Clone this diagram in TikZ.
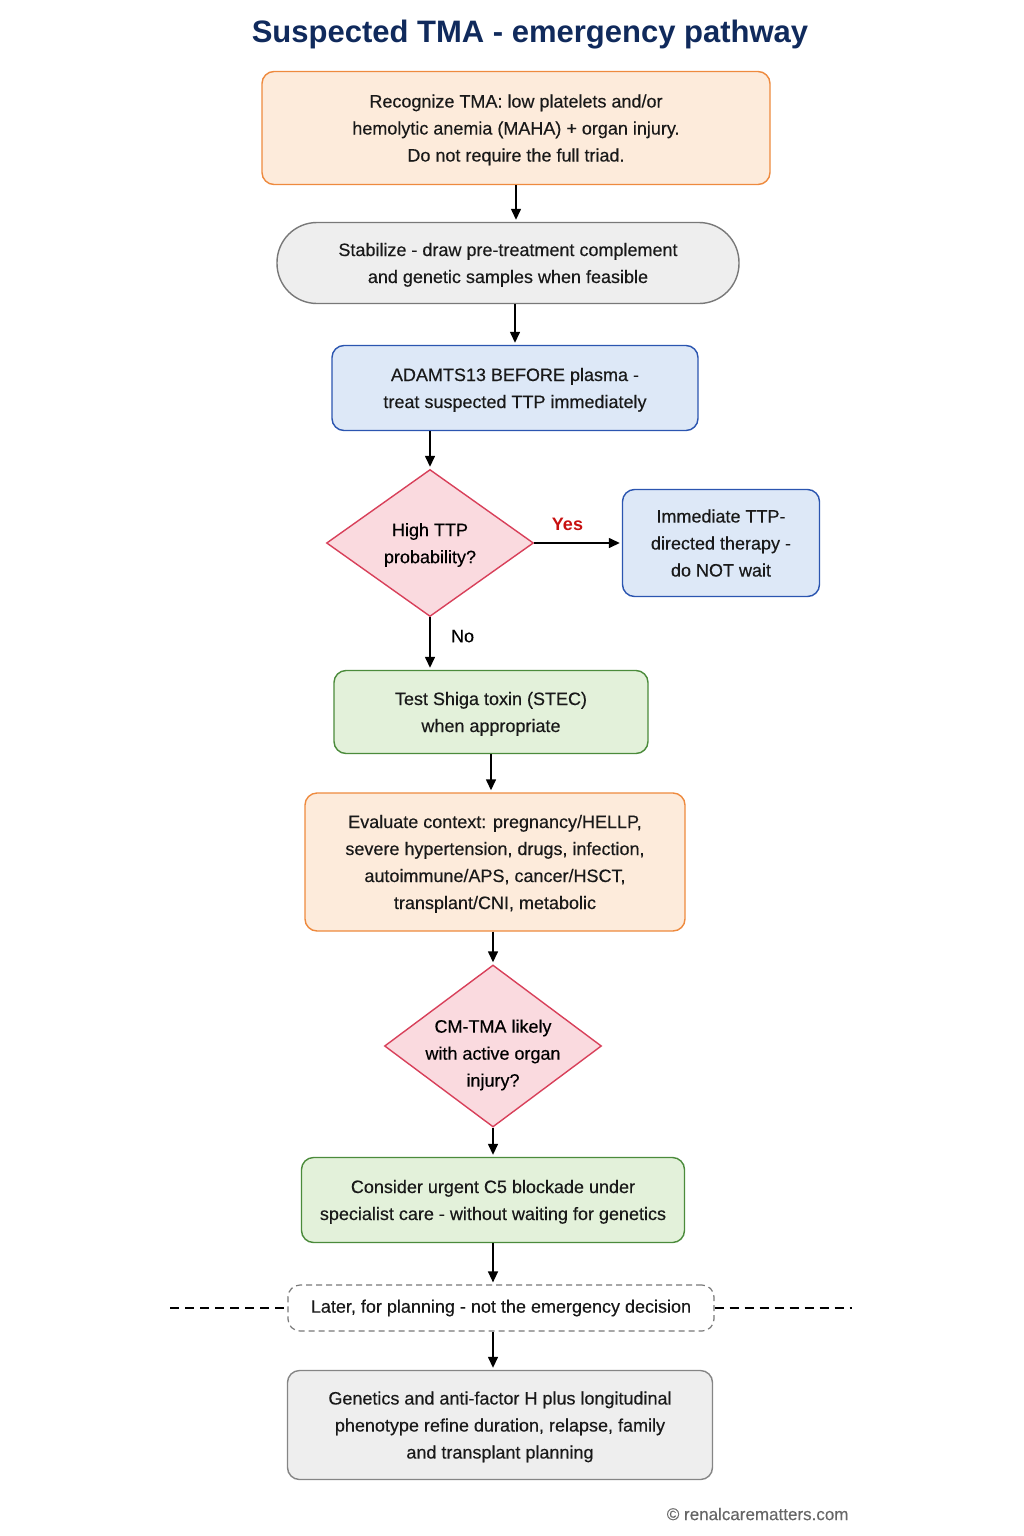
\documentclass[tikz,border=0pt]{standalone}
\usepackage{fontspec}
\setmainfont{Liberation Sans}[UprightFeatures={FakeBold=0.3}]
\usetikzlibrary{shapes.geometric,arrows.meta}

\definecolor{titleblue}{HTML}{102A5C}
\definecolor{orfill}{HTML}{FDEBDB}
\definecolor{ordraw}{HTML}{EE8A3E}
\definecolor{gyfill}{HTML}{EEEEEE}
\definecolor{gydraw}{HTML}{787878}
\definecolor{blfill}{HTML}{DDE8F7}
\definecolor{bldraw}{HTML}{2B55B0}
\definecolor{pkfill}{HTML}{FADADF}
\definecolor{pkdraw}{HTML}{D8405A}
\definecolor{grfill}{HTML}{E3F1DA}
\definecolor{grdraw}{HTML}{4B8B3B}
\definecolor{yesred}{HTML}{C81010}

\begin{document}
\begin{tikzpicture}[x=1pt,y=-1pt,font=\fontsize{18}{27}\selectfont,
    box/.style={draw,line width=1.4pt,rounded corners=12pt,align=center,inner sep=0pt,text=black!90},
    orangebox/.style={box,fill=orfill,draw=ordraw},
    graybox/.style={box,fill=gyfill,draw=gydraw},
    bluebox/.style={box,fill=blfill,draw=bldraw},
    greenbox/.style={box,fill=grfill,draw=grdraw},
    decision/.style={diamond,draw=pkdraw,fill=pkfill,line width=1.4pt,inner sep=0pt},
    arr/.style={-{Triangle[length=11pt,width=10pt]},line width=1.4pt,shorten >=2pt}]
  \useasboundingbox (0,0) rectangle (1024,1536);

  \node[font=\fontsize{31}{36}\selectfont\bfseries,text=titleblue] (title) at (530,35) {Suspected TMA - emergency pathway};

  \node[orangebox,minimum width=508pt,minimum height=113pt,text depth=0pt] (recog) at (516,128)
    {Recognize TMA: low platelets and/or\\hemolytic anemia (MAHA) + organ injury.\\Do not require the full triad.};
  \node[graybox,rounded corners=40pt,minimum width=462pt,minimum height=81pt,text depth=0pt] (stab) at (508,263)
    {Stabilize - draw pre-treatment complement\\and genetic samples when feasible};
  \node[bluebox,minimum width=366pt,minimum height=85pt,text depth=0pt] (adamts) at (515,388)
    {ADAMTS13 BEFORE plasma -\\treat suspected TTP immediately};

  % first decision
  \node[decision,minimum width=207pt,minimum height=147pt] (ttp) at (430,543) {};
  \node[align=center] (ttptext) at (430,545) {High TTP\\probability?};
  \node[bluebox,minimum width=197pt,minimum height=107pt,text depth=0pt] (immed) at (721,543)
    {Immediate TTP-\\directed therapy -\\do NOT wait};

  \node[greenbox,minimum width=314pt,minimum height=83pt,text depth=0pt] (stec) at (491,712)
    {Test Shiga toxin (STEC)\\when appropriate};
  \node[orangebox,minimum width=380pt,minimum height=138pt,text depth=0pt] (context) at (495,862)
    {Evaluate context: pregnancy/HELLP,\\severe hypertension, drugs, infection,\\autoimmune/APS, cancer/HSCT,\\transplant/CNI, metabolic};

  % second decision
  \node[decision,minimum width=217pt,minimum height=162pt] (cmtma) at (493,1046) {};
  \node[align=center] (cmtmatext) at (493,1055) {CM-TMA likely\\with active organ\\injury?};

  \node[greenbox,minimum width=383pt,minimum height=85pt,text depth=0pt] (c5) at (493,1200)
    {Consider urgent C5 blockade under\\specialist care - without waiting for genetics};
  \node[box,draw=gydraw,fill=white,line width=1.2pt,dash pattern=on 6pt off 4pt,minimum width=426pt,minimum height=46pt] (later) at (501,1308)
    {Later, for planning - not the emergency decision};
  \node[graybox,draw=gydraw!90,minimum width=425pt,minimum height=109pt,text depth=0pt] (genetics) at (500,1425)
    {Genetics and anti-factor H plus longitudinal\\phenotype refine duration, relapse, family\\and transplant planning};

  \coordinate (sepl) at (170,1308);
  \coordinate (sepr) at (852,1308);
  \draw[line width=1.3pt,dash pattern=on 9pt off 6pt] (sepl) -- (later.west);
  \draw[line width=1.3pt,dash pattern=on 9pt off 6pt] (later.east) -- (sepr);

  \node[anchor=east,text=black!60,font=\fontsize{17}{20}\selectfont] (credit) at (852,1514) {© renalcarematters.com};

  % connectors
  \draw[arr] (recog.south) -- (recog.south |- stab.north);
  \draw[arr] (adamts.north |- stab.south) -- (adamts.north);
  \draw[arr] (ttp.north |- adamts.south) -- (ttp.north);
  \draw[arr] (ttp.east) -- node[above,text=yesred,font=\fontsize{18}{27}\selectfont\bfseries,pos=0.38,yshift=8pt] {Yes} (immed.west);
  \draw[arr] (ttp.south) -- node[right,pos=0.36,xshift=17pt] {No} (ttp.south |- stec.north);
  \draw[arr] (stec.south) -- (stec.south |- context.north);
  \draw[arr] (cmtma.north |- context.south) -- (cmtma.north);
  \draw[arr] (cmtma.south) -- (c5.north);
  \draw[arr] (c5.south) -- (c5.south |- later.north);
  \draw[arr] (c5.south |- later.south) -- (c5.south |- genetics.north);
\end{tikzpicture}
\end{document}
